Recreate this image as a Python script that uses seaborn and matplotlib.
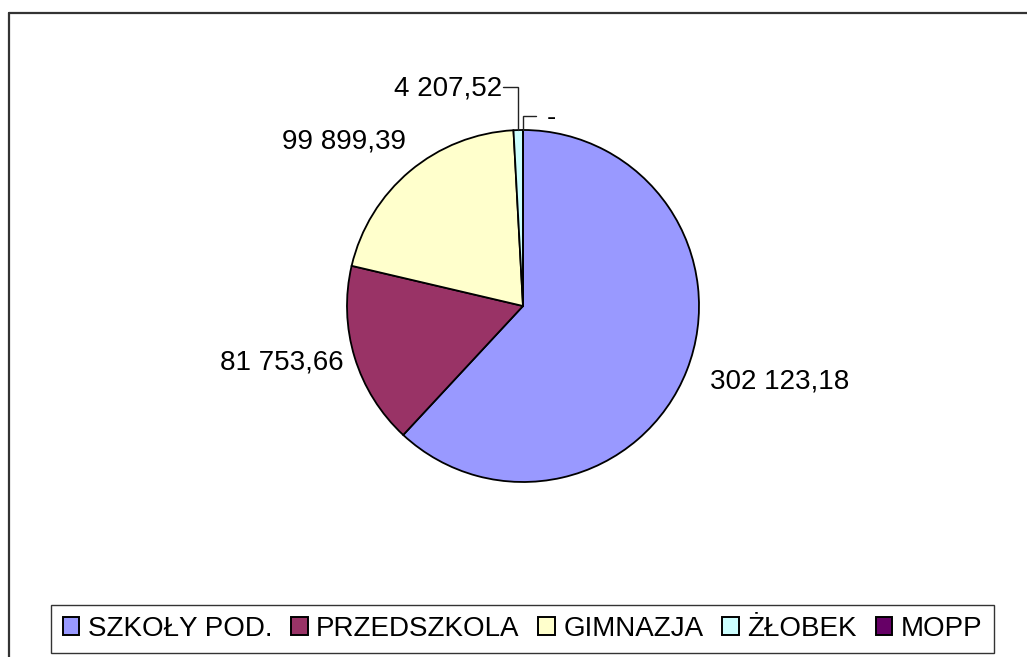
import numpy as np
import matplotlib
matplotlib.use("Agg")
import matplotlib.pyplot as plt
from matplotlib.patches import Patch
from matplotlib.lines import Line2D
import seaborn as sns

# ---- data ----
categories = ["SZKOŁY POD.", "PRZEDSZKOLA", "GIMNAZJA", "ŻŁOBEK", "MOPP"]
values = [302123.18, 81753.66, 99899.39, 4207.52, 0.0]
value_labels = ["302 123,18", "81 753,66", "99 899,39", "4 207,52", "-"]
colors = ["#9999FF", "#993366", "#FFFFCC", "#CCFFFF", "#660066"]

sns.set_theme(style="white")
plt.rcParams["font.family"] = ["Liberation Sans", "DejaVu Sans"]
plt.rcParams["text.color"] = "black"

W, H = 1027, 657
fig = plt.figure(figsize=(W / 100, H / 100), dpi=100)
fig.patch.set_facecolor("white")

# axes covering full figure, units = pie radius
R = 176.0
cx, cy = 523.0, 306.0
ax = fig.add_axes([0, 0, 1, 1])

palette = sns.color_palette(colors)
wedges, _ = ax.pie(values, colors=palette, startangle=90, counterclock=False,
                   radius=1.0, center=(0, 0), normalize=True,
                   wedgeprops=dict(edgecolor="black", linewidth=1.3))
ax.set_aspect("auto")
ax.set_xlim(-cx / R, (W - cx) / R)
ax.set_ylim(-(H - cy) / R, cy / R)
ax.axis("off")

# mid angles
total = sum(values)
fr = np.array(values) / total
ends = 90 - np.cumsum(fr) * 360
starts = ends + fr * 360
mids = (starts + ends) / 2

fs = 20
# big slices: label placed along (shifted) mid angle
label_dist = [1.52, 1.41, 1.383]
label_dang = [5.1, -3.8, 7.4]
for i in range(3):
    a = np.deg2rad(mids[i] + label_dang[i])
    ax.text(label_dist[i] * np.cos(a), label_dist[i] * np.sin(a), value_labels[i],
            ha="center", va="center", fontsize=fs, color="black")

# small slices with elbow leader lines
lw_lead = 1.0
# ŻŁOBEK
a = np.deg2rad(mids[3])
x0, y0 = np.cos(a), np.sin(a)
ye = 1.244
xe = x0 - 0.087
ax.plot([x0, x0, xe], [y0, ye, ye], color="#222222", lw=lw_lead, solid_joinstyle="miter")
ax.text(xe - 0.005, ye - 0.01, value_labels[3], ha="right", va="center", fontsize=fs, color="black")
# MOPP
a = np.deg2rad(mids[4])
x0, y0 = np.cos(a), np.sin(a)
ye = 1.08
xe = x0 + 0.074
ax.plot([x0, x0, xe], [y0, ye, ye], color="#222222", lw=lw_lead, solid_joinstyle="miter")
ax.text(xe + 0.06, ye - 0.01, value_labels[4], ha="left", va="center", fontsize=fs, color="black")

# outer frame (open to right/bottom)
fx, fy = 8.5 / W, 1 - 12.5 / H
fig.add_artist(Line2D([fx, fx], [fy, -0.01], transform=fig.transFigure, color="#333333", lw=1.6))
fig.add_artist(Line2D([fx, 1.01], [fy, fy], transform=fig.transFigure, color="#333333", lw=1.6))

# legend
handles = [Patch(facecolor=c, edgecolor="black", linewidth=1.4) for c in palette]
leg = fig.legend(handles, categories, loc="center",
                 bbox_to_anchor=((52 + 993) / 2 / W, 1 - 629 / H),
                 ncol=5, fontsize=fs, frameon=True, fancybox=False,
                 edgecolor="black", handlelength=0.6, handleheight=0.6,
                 handletextpad=0.3, columnspacing=0.68, borderpad=0.4,
                 borderaxespad=0, labelcolor="black")
leg.get_frame().set_linewidth(1.0)

fig.savefig("out.png", dpi=100, facecolor="white")
